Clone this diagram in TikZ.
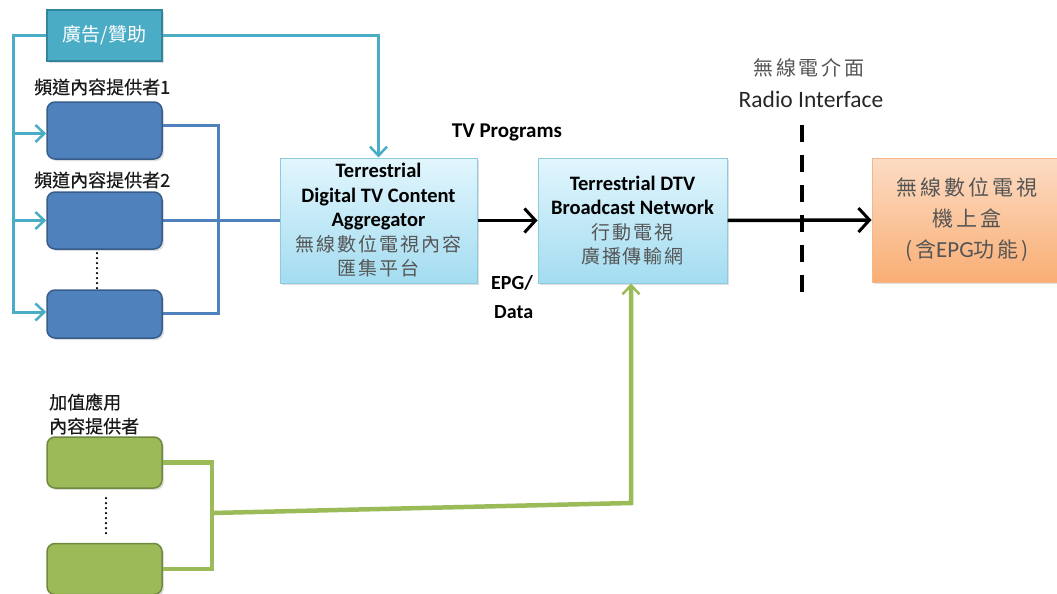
\documentclass[tikz,border=0pt]{standalone}
\usepackage{fontspec}
\setmainfont{Carlito}
\newfontfamily\cjk{Noto Sans CJK TC}
\newfontfamily\cjkbold{Noto Sans CJK TC}[FakeBold=0.6]
\newfontfamily\cjkwide{Noto Sans CJK TC}[LetterSpace=10]
\newfontfamily\cjkwider{Noto Sans CJK TC}[LetterSpace=14]
\usetikzlibrary{arrows.meta,shadows}
\definecolor{tealline}{HTML}{4BACC6}
\definecolor{tealdark}{HTML}{31859C}
\definecolor{blueline}{HTML}{4F81BD}
\definecolor{bluedark}{HTML}{385D8A}
\definecolor{greenline}{HTML}{9BBB59}
\definecolor{greendark}{HTML}{71893F}
\definecolor{cyantop}{HTML}{E2F6FD}
\definecolor{cyanbot}{HTML}{A3DCF0}
\definecolor{cyanedge}{HTML}{8CCBE0}
\definecolor{orangetop}{HTML}{FCDCC4}
\definecolor{orangebot}{HTML}{F9AE74}
\definecolor{orangeedge}{HTML}{F5B68A}
\definecolor{cjkgray}{HTML}{555555}
\tikzset{
  softshadow/.style={drop shadow={opacity=0.25,shadow xshift=2pt,shadow yshift=-2pt}},
  provider/.style={draw=bluedark,fill=blueline,line width=1.5pt,rounded corners=8pt,
    minimum width=115pt,softshadow},
  addon/.style={draw=greendark,fill=greenline,line width=1.5pt,rounded corners=8pt,
    minimum width=115pt,minimum height=51pt,softshadow},
  platform/.style={draw=cyanedge,line width=1pt,top color=cyantop,bottom color=cyanbot,
    minimum height=125pt,align=center,softshadow,inner sep=0pt,
    font=\fontsize{20.5}{24.5}\selectfont},
  caption/.style={font=\cjkbold\fontsize{18}{24}\selectfont,text=black!90,anchor=west,
    inner sep=0pt,align=left},
  feed/.style={draw=tealline,line width=3pt},
  mux/.style={draw=blueline,line width=3pt},
  vas/.style={draw=greenline,line width=4.5pt},
  signal/.style={draw=black,line width=3.5pt},
  ellipsis/.style={line width=2.5pt,dash pattern=on 0pt off 5pt,line cap=round},
  barb/.style={-{Straight Barb[length=9pt,width=17pt,line width=2.5pt]}},
  bigbarb/.style={-{Straight Barb[length=11pt,width=24pt,line width=3pt]}},
}
\newcommand{\en}{\bfseries}
\newcommand{\zh}{\color{cjkgray}\cjkwide\fontsize{19}{24.5}\selectfont}
\begin{document}
\begin{tikzpicture}[x=1pt,y=-1pt]
\useasboundingbox (0,0) rectangle (1057,594);

% sponsor box
\node[draw=tealdark,fill=tealline,line width=1.5pt,minimum width=115pt,minimum height=51pt,
  text=white,font=\cjk\fontsize{19}{22}\selectfont,softshadow] (ad) at (104.5,35.5) {廣告/贊助};

% channel content providers
\node[caption] (l1) at (34,87) {頻道內容提供者1};
\node[caption] (l2) at (34,180) {頻道內容提供者2};
\node[provider,minimum height=57pt] (b1) at (104.5,130.5) {};
\node[provider,minimum height=57pt] (b2) at (104.5,220.5) {};
\node[provider,minimum height=48pt] (b3) at (104.5,314) {};
\coordinate (d1) at (97,253);
\coordinate (d2) at (97,288);
\draw[ellipsis] (d1) -- (d2);

% value-added content providers
\node[caption] (l3) at (49,414) {加值應用\\內容提供者};
\node[addon] (g1) at (104.5,462.5) {};
\node[addon] (g2) at (104.5,569) {};
\coordinate (d3) at (106,498);
\coordinate (d4) at (106,537);
\draw[ellipsis] (d3) -- (d4);

% aggregator and broadcast network
\node[platform,minimum width=197pt] (agg) at (378.5,220.5)
  {{\en Terrestrial}\\{\en Digital TV Content}\\{\en Aggregator}\\{\zh 無線數位電視內容}\\{\zh 匯集平台}};
\node[platform,minimum width=189pt] (net) at (632.5,220.5)
  {{\en Terrestrial DTV}\\{\en Broadcast Network}\\{\zh 行動電視}\\{\zh 廣播傳輸網}};

% set-top box
\node[draw=orangeedge,line width=1pt,top color=orangetop,bottom color=orangebot,
  minimum width=190pt,minimum height=124pt,align=center,softshadow,inner sep=0pt,
  font=\color{cjkgray}\cjkwider\fontsize{21}{31}\selectfont] (stb) at (967,220)
  {無線數位電視\\機上盒\\(含{\fontsize{23}{31}\rmfamily EPG}功能)};

% texts on the links
\node[font=\bfseries\fontsize{21}{25}\selectfont,inner sep=0pt] (tvp) at (507,132) {TV Programs};
\node[font=\bfseries\fontsize{20}{29}\selectfont,align=center,inner sep=0pt] (epg) at (512,297) {EPG/\\\,Data};
\node[font=\cjkwider\fontsize{20}{22}\selectfont\color{cjkgray},inner sep=0pt] (rzh) at (809,68) {無線電介面};
\node[font=\fontsize{23.5}{26}\selectfont,text=black!85,inner sep=0pt] (ren) at (811,99) {Radio Interface};

% radio interface boundary
\coordinate (r1) at (802,125);
\coordinate (r2) at (802,298);
\draw[line width=4.5pt,dash pattern=on 17pt off 13pt] (r1) -- (r2);

% sponsor feed
\coordinate (tl) at (13,35.5);
\coordinate (in1) at ([yshift=-3pt]b1.west);
\coordinate (in3) at ([yshift=2pt]b3.west);
\draw[feed,barb] (ad.west) -| (tl |- in3) -- (in3);
\draw[feed,barb] (tl |- in1) -- (in1);
\draw[feed,barb] (tl |- b2.west) -- (b2.west);
\draw[feed,barb] (ad.east) -| (agg.north);

% provider links into the aggregator
\coordinate (out1) at ([yshift=5pt]b1.east);
\coordinate (out3) at ([yshift=1pt]b3.east);
\coordinate (bm) at (218,0);
\draw[mux] (out1) -- (bm |- out1) |- (out3);
\draw[mux] (b2.east) -- (agg.west);

% value-added links into the network
\coordinate (gm) at (212,0);
\coordinate (gj) at (212,513);
\coordinate (gk) at (631,503);
\draw[vas] (g1.east) -- (gm |- g1.east) |- (g2.east);
\draw[vas,barb] (gj) -- (gk) -- (gk |- net.south);

% transport chain
\draw[signal,bigbarb] (agg.east) -- (net.west);
\draw[signal,bigbarb] (net.east) -- (stb.west);
\end{tikzpicture}
\end{document}
